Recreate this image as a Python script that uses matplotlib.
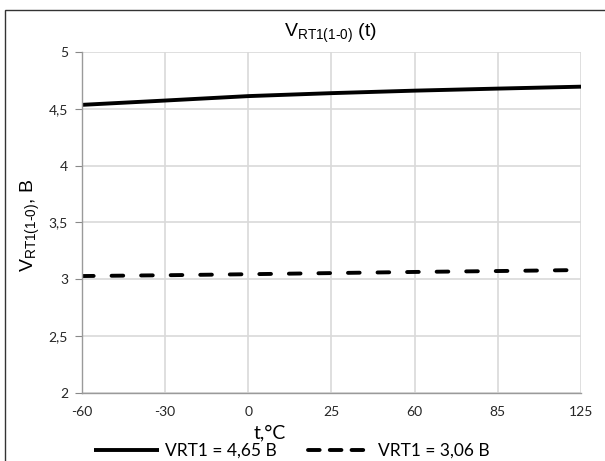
import matplotlib.pyplot as plt
from matplotlib.patches import Rectangle
from matplotlib.lines import Line2D

# данные
temps = ["-60", "-30", "0", "25", "60", "85", "125"]
v_465 = [4.535, 4.573, 4.612, 4.638, 4.660, 4.678, 4.695]
v_306 = [3.029, 3.036, 3.045, 3.055, 3.065, 3.073, 3.082]
y_ticks = [2, 2.5, 3, 3.5, 4, 4.5, 5]
labels = ['VRT1 = 4,65 B', 'VRT1 = 3,06 B']

plt.rcParams['mathtext.fontset'] = 'custom'
plt.rcParams['mathtext.rm'] = 'Liberation Sans'
plt.rcParams['mathtext.it'] = 'Liberation Sans:italic'

fig = plt.figure(figsize=(6.05, 4.61), dpi=100)
ax = fig.add_axes([82/605, 1-393/461, (581-82)/605, (393-52)/461])

x = list(range(len(temps)))
l1, = ax.plot(x, v_465, color='black', lw=2.8, solid_capstyle='butt')
l2, = ax.plot(x, v_306, color='black', lw=2.8, dashes=(3.0, 4.6),
              dash_capstyle='round')

ax.set_xlim(0, len(temps)-1)
ax.set_ylim(2, 5)
ax.set_xticks(x)
ax.set_xticklabels(temps, fontfamily='Lato', fontsize=10, color='#262626')
ax.set_yticks(y_ticks)
ax.set_yticklabels([str(v).replace('.', ',') for v in y_ticks],
                   fontfamily='Lato', fontsize=10, color='#262626')
ax.tick_params(axis='x', length=0, pad=9)
ax.tick_params(axis='y', length=5, color='#888888', pad=5)

ax.grid(True, color='#d9d9d9', lw=1.2)
ax.set_axisbelow(True)
for s in ['top', 'right']:
    ax.spines[s].set_visible(False)
for s in ['left', 'bottom']:
    ax.spines[s].set_color('#9a9a9a')
    ax.spines[s].set_linewidth(1.0)

fig.text(330/605, 1-33/461, r'V$_{\mathrm{RT1(1\text{-}0)}}$ (t)', ha='center', va='center',
         fontfamily='Liberation Sans', fontsize=14)
fig.text(30/605, 1-225/461, r'V$_{\mathrm{RT1(1\text{-}0)}}$, B', ha='center', va='center',
         rotation=90, fontfamily='Liberation Sans', fontsize=14)
fig.text(270/605, 1-433/461, 't,°C', ha='center', va='center',
         fontfamily='Lato', fontsize=14)

# легенда: пунктир в легенде короче, как в Excel
h1 = Line2D([], [], color='black', lw=2.8, solid_capstyle='butt')
h2 = Line2D([], [], color='black', lw=2.8, dashes=(3.0, 2.6), dash_capstyle='round')
fig.legend([h1, h2], labels, ncol=2,
           loc='center', bbox_to_anchor=(292/605, 1-451/461), frameon=False,
           prop={'family': 'Lato', 'size': 12.5}, handlelength=3.7,
           columnspacing=1.8, handletextpad=0.35, borderpad=0)

fig.add_artist(Rectangle((5/605, -0.1), 1, 1-10/461+0.1, transform=fig.transFigure,
                         fill=False, edgecolor='#333333', lw=1.0, clip_on=False))

fig.savefig('out.png', dpi=100)
